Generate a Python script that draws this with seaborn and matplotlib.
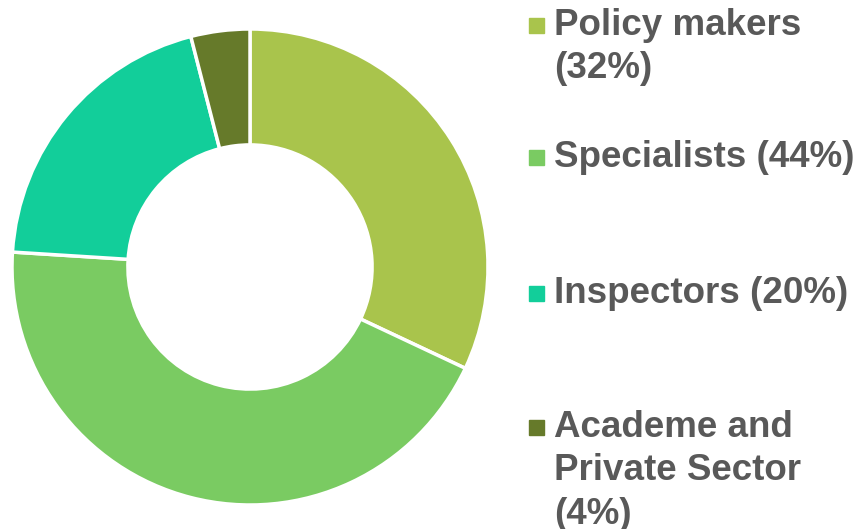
import matplotlib
matplotlib.use("Agg")
import matplotlib.pyplot as plt
import seaborn as sns
from matplotlib.patches import Rectangle

# Stakeholder groups and shares (%)
labels = ["Policy makers\n(32%)", "Specialists (44%)", "Inspectors (20%)",
          "Academe and\nPrivate Sector\n(4%)"]
shares = [32, 44, 20, 4]
colors = ["#A9C44C", "#7ACB62", "#12CE9A", "#667A2A"]

sns.set_theme(style="white")
plt.rcParams["font.family"] = ["Liberation Sans", "DejaVu Sans"]

W, H = 861, 529
fig = plt.figure(figsize=(W / 100, H / 100), dpi=100)

# Donut: center (250, 267) px, radius 238 px
ax = fig.add_axes([12 / W, (H - 267 - 238) / H, 476 / W, 476 / H])
ax.pie(shares, colors=colors, startangle=90, counterclock=False,
       wedgeprops=dict(width=0.487, edgecolor="white", linewidth=2.5))
ax.set_xlim(-1, 1)
ax.set_ylim(-1, 1)
ax.set_aspect("equal")
ax.axis("off")

# Legend: cap-top of first line, pixels from the top
cap_tops = [10, 142, 278, 412]
for lab, col, yc in zip(labels, colors, cap_tops):
    fig.patches.append(Rectangle((529 / W, (H - yc - 23) / H), 15 / W, 15 / H,
                                 transform=fig.transFigure, color=col))
    fig.text(554 / W, (H - yc + 2) / H, lab, fontsize=26.5, fontweight="bold",
             color="#595959", va="top", ha="left", linespacing=1.31)

fig.savefig("out.png", dpi=100)
